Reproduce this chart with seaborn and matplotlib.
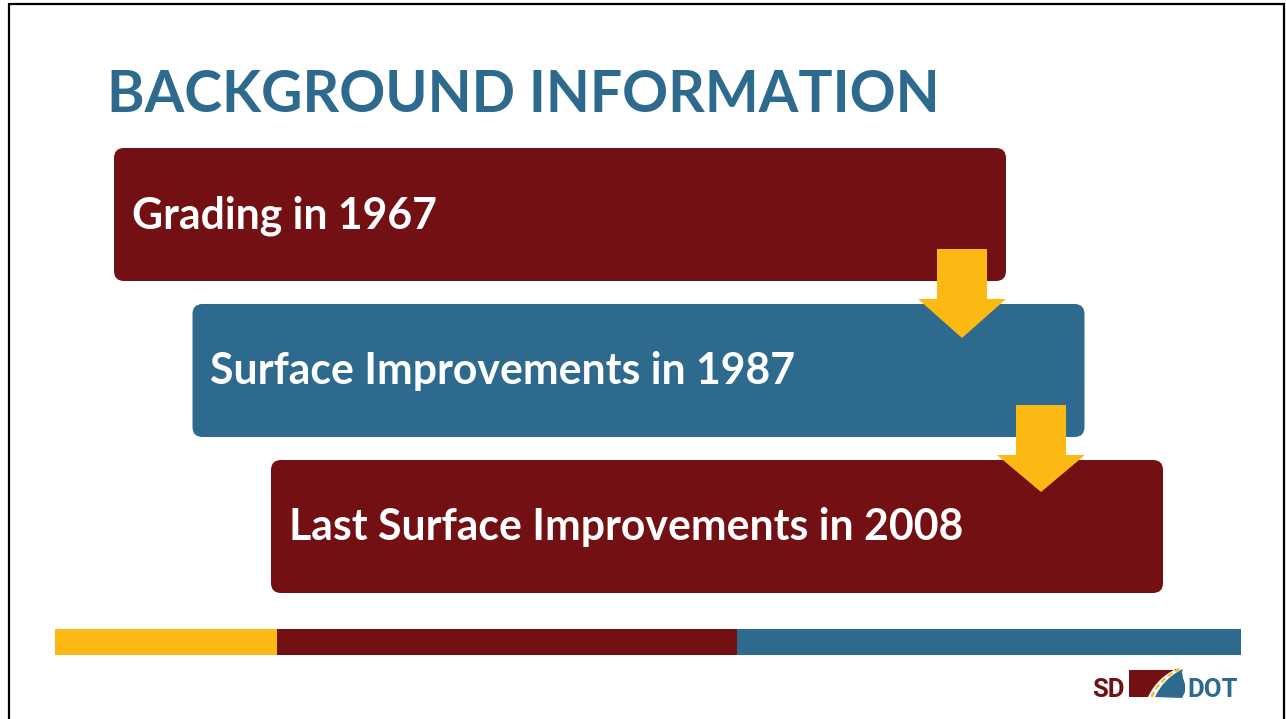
import numpy as np
import matplotlib
matplotlib.use("Agg")
import matplotlib.pyplot as plt
from matplotlib.patches import FancyBboxPatch, Polygon, Rectangle
import seaborn as sns

# ---- content -------------------------------------------------------------
title = "BACKGROUND INFORMATION"
steps = ["Grading in 1967",
         "Surface Improvements in 1987",
         "Last Surface Improvements in 2008"]
logo_left = "SD"
logo_right = "DOT"

# ---- style -----------------------------------------------------------------
sns.set_theme(style="white")
plt.rcParams['font.family'] = ['Lato', 'DejaVu Sans']

MAROON = "#731014"
BLUE = "#2E6A8E"
YELLOW = "#FDB913"

W, H = 1286, 719
fig = plt.figure(figsize=(W / 100, H / 100), dpi=100)
fig.patch.set_facecolor("white")
ax = fig.add_axes([0, 0, 1, 1])
ax.set_xlim(0, W)
ax.set_ylim(H, 0)
ax.axis("off")

renderer = fig.canvas.get_renderer()


def fit_size(s, target_w, **kw):
    t = ax.text(0, 0, s, fontsize=20, **kw)
    bb = t.get_window_extent(renderer)
    t.remove()
    return 20 * target_w / bb.width


# border (left, top, right)
ax.plot([9, 9, 1284, 1284], [H + 5, 4, 4, H + 5], color="black", lw=1.6,
        solid_joinstyle="miter", zorder=10)

# title
fs_title = fit_size(title, 832, weight="bold")
ax.text(107, 112, title, fontsize=fs_title, weight="bold", color=BLUE,
        va="baseline", ha="left")

# step boxes
box_w, box_h = 892, 133
box_colors = [MAROON, BLUE, MAROON]
fs_step = fit_size(steps[2], 675, weight="bold")
for i, s in enumerate(steps):
    x0 = 114 + 78.5 * i
    y0 = 148 + 156 * i
    ax.add_patch(FancyBboxPatch((x0, y0), box_w, box_h,
                                boxstyle="round,pad=0,rounding_size=10",
                                fc=box_colors[i], ec="none", zorder=2))
    ax.text(x0 + 18, y0 + 80, s, fontsize=fs_step, weight="bold",
            color="white", va="baseline", ha="left", zorder=4)

# arrows between boxes
for i in range(2):
    cx = 962 + 79 * i
    top = 249 + 156 * i
    neck = 299 + 156 * i
    tip = 338 + 156 * i - 2 * i
    pts = [(cx - 25, top), (cx + 25, top), (cx + 25, neck), (cx + 44, neck),
           (cx, tip), (cx - 44, neck), (cx - 25, neck)]
    ax.add_patch(Polygon(pts, closed=True, fc=YELLOW, ec="none", zorder=3))

# bottom stripe
for x0, x1, c in [(55, 277, YELLOW), (277, 737, MAROON), (737, 1241, BLUE)]:
    ax.add_patch(Rectangle((x0, 629), x1 - x0, 26, fc=c, ec="none", zorder=2))

# logo
logo_fam = ['Roboto', 'DejaVu Sans']
fs_logo = 18.5
ax.text(1125, 697, logo_left, fontsize=fs_logo, weight="bold", color=MAROON,
        family=logo_fam, va="baseline", ha="right")
ax.text(1187, 697, logo_right, fontsize=fs_logo, weight="bold", color=BLUE,
        family=logo_fam, va="baseline", ha="left")

t = np.linspace(0, 1, 30)
p0, pc, p1 = np.array([1151, 697]), np.array([1160, 678]), np.array([1179, 669])
curve = ((1 - t)[:, None] ** 2) * p0 + (2 * (1 - t) * t)[:, None] * pc + (t[:, None] ** 2) * p1
maroon_pts = [(1129, 670), (1177, 670)] + [tuple(p) for p in (curve[::-1] + np.array([-3, 0]))] + [(1129, 697)]
ax.add_patch(Polygon(maroon_pts, closed=True, fc=MAROON, ec="none", zorder=2))
blue_pts = [tuple(p) for p in (curve + np.array([4, 0]))] + [(1182, 672), (1183, 678),
                                                            (1185, 684), (1185, 692),
                                                            (1182, 698)]
ax.add_patch(Polygon(blue_pts, closed=True, fc=BLUE, ec="none", zorder=2))
ax.plot(curve[:, 0] + 0.5, curve[:, 1], color=YELLOW, lw=1.6,
        dashes=(2.5, 1.5), zorder=3)

fig.savefig("out.png", dpi=100, facecolor="white")
